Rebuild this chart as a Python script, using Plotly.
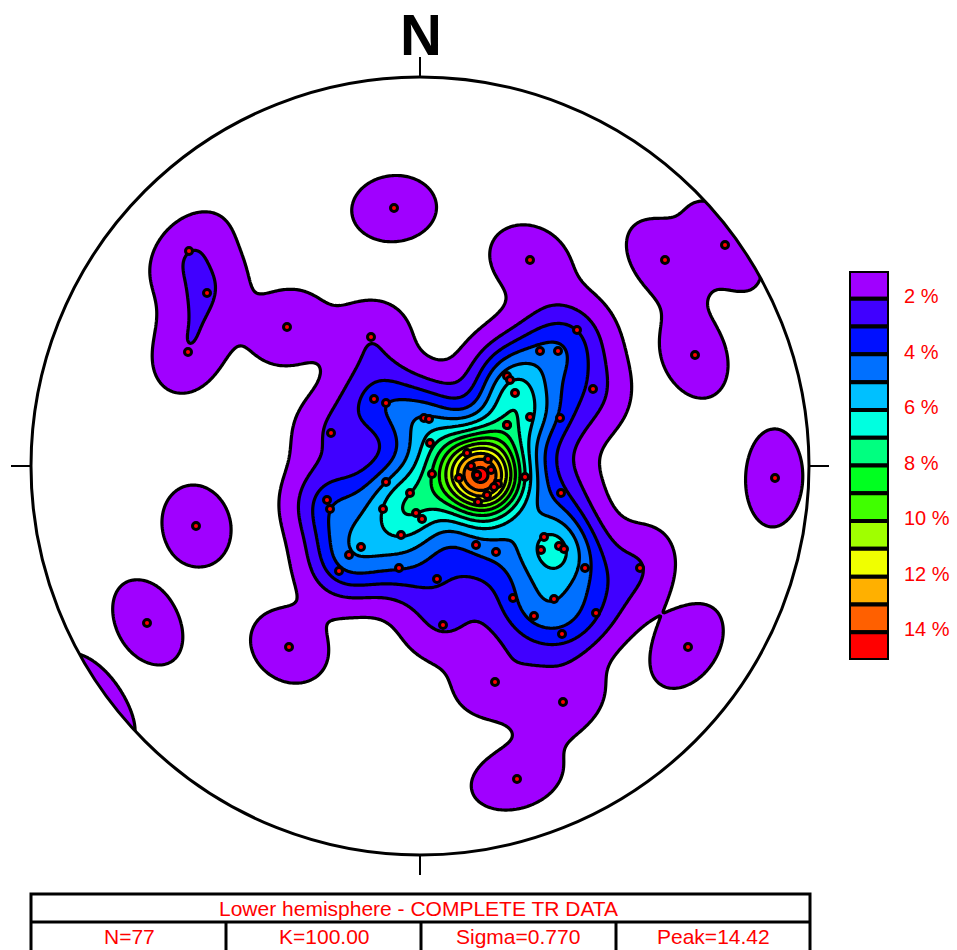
import numpy as np
import plotly.graph_objects as go

# Pole positions on the equal-area net, in net units (primitive circle radius = 389)
east = [-26, 110, 245, 305, 275, 355, -231, -213, -232, -133, -224, -273, -131, 268, 75, 143, 97,
        -49, -89, -46, -34, 4, 9,
        157, 120, 138, 87, 90, 173, 95, 110, 140, 87,
        10, 47, 68, 51, 71, 12, 57, 57, 57, 87, 105, 39, 78, 74, 67, 58, -10,
        -93, -90, -34, -37, -4, 2, -19, -59, -71, -81, -21, 17, 23, 56,
        141, 76, 124, 121, 139, 144, 165, 220, 93, 134, 114, 176, 142]
north = [258, 206, 206, 221, 111, -12, 215, 173, 114, 139, -60, -157, -181, -181, -216, -236, -313,
         129, 33, 67, 63, 48, 47,
         136, 115, 115, 90, 86, 77, 73, 49, 48, 41,
         23, 13, 7, 0, -4, -8, -9, -9, -9, 41, -11, -12, -18, -21, -29, -36, -27,
         -34, -43, -16, -43, -47, -53, -69, -81, -89, -105, -102, -113, -159, -79,
         -27, -86, -71, -84, -80, -83, -102, -102, -132, -133, -150, -147, -168]

NET_RADIUS = 389
KAPPA = 100.0
PEAK = 14.42
N_LEVELS = 14
band_colors = ["#A000FF", "#4000FF", "#0010FF", "#0070FF", "#00C0FF", "#00FFE0", "#00FF80",
               "#00FF20", "#40FF00", "#A0FF00", "#F0FF00", "#FFB000", "#FF6000", "#FF0000"]
legend_labels = ["2 %", "4 %", "6 %", "8 %", "10 %", "12 %", "14 %"]
title_text = "Lower hemisphere - COMPLETE TR DATA"
stats_text = ["N=77", "K=100.00", "Sigma=0.770", "Peak=14.42"]

e = np.array(east, float) / NET_RADIUS
n = np.array(north, float) / NET_RADIUS
s = np.sqrt(2 - e**2 - n**2)
vx, vy, vz = e * s, n * s, 1 - e**2 - n**2

# Fisher counting on the sphere (axial), expressed as % per 1 % area
gx = np.linspace(-1.03, 1.03, 501)
gy = np.linspace(-1.03, 1.03, 501)
X, Y = np.meshgrid(gx, gy)
S = np.sqrt(2 - X**2 - Y**2)
ux, uy, uz = X * S, Y * S, 1 - X**2 - Y**2
dens = np.zeros_like(X)
for a, b, c in zip(vx, vy, vz):
    dens += np.exp(KAPPA * (np.abs(ux * a + uy * b + uz * c) - 1))
dens *= KAPPA / len(east)

step = PEAK / N_LEVELS
start = step / 2
zmin = start - step
zmax = start + step * N_LEVELS
edges = np.linspace(0, 1, N_LEVELS + 2)
all_cols = ["#FFFFFF"] + band_colors
cscale = []
for i, col in enumerate(all_cols):
    cscale += [[edges[i], col], [edges[i + 1], col]]

fig = go.Figure()
fig.add_trace(go.Contour(
    x=gx * NET_RADIUS, y=gy * NET_RADIUS, z=dens,
    autocontour=False,
    contours=dict(start=start, end=start + step * (N_LEVELS - 1), size=step, coloring="fill"),
    line=dict(color="black", width=3.2, smoothing=0),
    colorscale=cscale, zmin=zmin, zmax=zmax, showscale=False, hoverinfo="skip",
))
fig.add_trace(go.Scatter(
    x=east, y=north, mode="markers",
    marker=dict(color="#FF0000", size=7, line=dict(color="black", width=3)),
    hoverinfo="skip",
))
for i, col in enumerate(band_colors):
    fig.add_trace(go.Bar(
        x=[1], y=[1], base=[i], xaxis="x2", yaxis="y2", orientation="v", width=[1],
        marker=dict(color=col, line=dict(color="black", width=4)), hoverinfo="skip",
    ))

W, H = 957, 950
CX, CY = 420, 466
R = NET_RADIUS
B = R * 1.035
t = np.linspace(0, 2 * np.pi, 721)[:-1]
circle_path = "M " + " L ".join(f"{R*np.cos(a):.2f} {R*np.sin(a):.2f}" for a in t) + " Z"
ring = f"M {-B} {-B} L {B} {-B} L {B} {B} L {-B} {B} Z " + circle_path
shapes = [dict(type="path", path=ring, fillcolor="white", fillrule="evenodd",
               line=dict(width=0), xref="x", yref="y"),
          dict(type="circle", x0=-R, x1=R, y0=-R, y1=R, line=dict(color="black", width=3), xref="x", yref="y")]
for x0, y0, x1, y1 in [(0, R, 0, R + 20), (0, -R, 0, -R - 20), (R, 0, R + 20, 0), (-R, 0, -R - 20, 0)]:
    shapes.append(dict(type="line", x0=x0, y0=y0, x1=x1, y1=y1, line=dict(color="black", width=2), xref="x", yref="y"))

def px(x):
    return x - CX
def py(y):
    return CY - y

tbl = dict(color="black", width=3)
shapes.append(dict(type="rect", x0=px(31), x1=px(810), y0=py(894), y1=py(952), line=tbl, xref="x", yref="y"))
shapes.append(dict(type="line", x0=px(31), x1=px(810), y0=py(922), y1=py(922), line=tbl, xref="x", yref="y"))
for v in [226, 421, 616]:
    shapes.append(dict(type="line", x0=px(v), x1=px(v), y0=py(922), y1=py(952), line=tbl, xref="x", yref="y"))

red = dict(family="Liberation Sans", size=21, color="#FF0000")
ann = [dict(x=px(420.5), y=py(34), text="<b>N</b>", showarrow=False, xref="x", yref="y",
            font=dict(family="Liberation Sans", size=58, color="black")),
       dict(x=px(418), y=py(908), text=title_text, showarrow=False, xref="x", yref="y", font=red)]
for xc, txt in zip([129, 324, 518, 713], stats_text):
    ann.append(dict(x=px(xc), y=py(936), text=txt, showarrow=False, xref="x", yref="y", font=red))

fig.update_layout(
    width=W, height=H, autosize=False, margin=dict(l=0, r=0, t=0, b=0),
    paper_bgcolor="white", plot_bgcolor="rgba(0,0,0,0)", showlegend=False,
    barmode="overlay",
    xaxis=dict(range=[-CX, W - CX], domain=[0, 1], visible=False, fixedrange=True),
    yaxis=dict(range=[CY - H, CY], domain=[0, 1], visible=False, fixedrange=True),
    xaxis2=dict(domain=[849 / W, 889 / W], range=[0.5, 1.5], visible=False, anchor="y2", fixedrange=True),
    yaxis2=dict(domain=[(H - 660) / H, (H - 271) / H], range=[N_LEVELS, 0], anchor="x2", side="right",
                tickmode="array", tickvals=[0.9 + 2 * i for i in range(7)], ticktext=legend_labels,
                tickfont=dict(family="Liberation Sans", size=20, color="#FF0000"),
                ticks="outside", ticklen=10, tickcolor="rgba(0,0,0,0)",
                showgrid=False, zeroline=False, showline=False, fixedrange=True),
    shapes=shapes, annotations=ann,
)
fig.write_html("out.html", config={"displayModeBar": False},
               post_script="document.body.style.margin='0';document.documentElement.style.overflow='hidden';")
